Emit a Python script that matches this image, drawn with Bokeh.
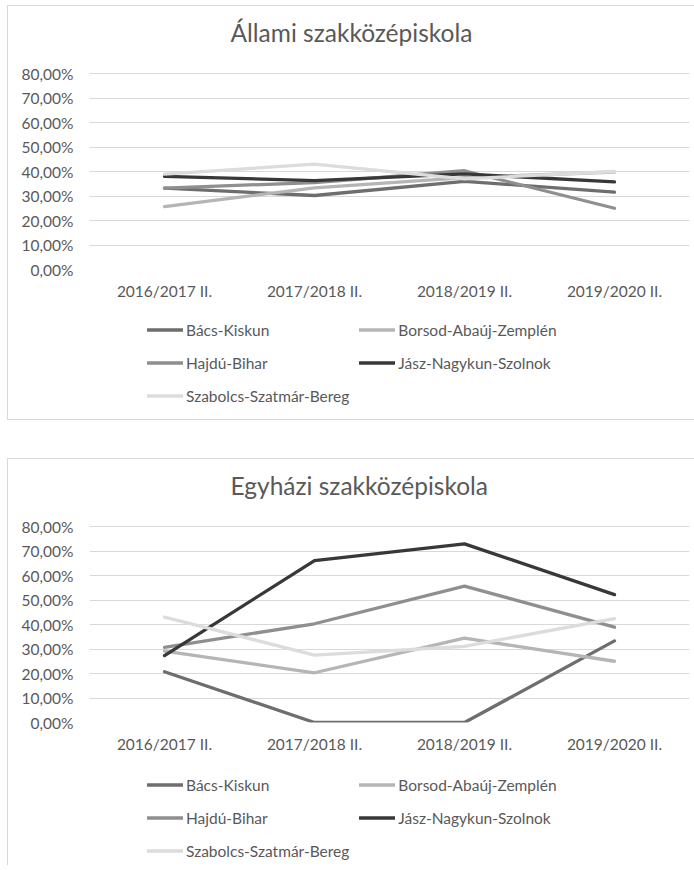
from bokeh.plotting import figure
from bokeh.models import (FactorRange, Range1d, FixedTicker, CustomJSTickFormatter,
                          Legend, LegendItem, Title)
from bokeh.layouts import column
from bokeh.embed import file_html
from bokeh.resources import INLINE

categories = ["2016/2017 II.", "2017/2018 II.", "2018/2019 II.", "2019/2020 II."]
series_names = ["Bács-Kiskun", "Borsod-Abaúj-Zemplén", "Hajdú-Bihar",
                "Jász-Nagykun-Szolnok", "Szabolcs-Szatmár-Bereg"]
series_colors = ["#6e6e6e", "#b5b5b5", "#8f8f8f", "#383838", "#dcdcdc"]
y_ticks = [0, 10, 20, 30, 40, 50, 60, 70, 80]

# Állami szakközépiskola (percent)
allami_bacs = [33.2, 30.2, 36.0, 31.6]
allami_borsod = [25.7, 33.3, 37.5, 39.8]
allami_hajdu = [33.2, 35.5, 40.3, 25.0]
allami_jasz = [38.0, 36.3, 39.0, 35.8]
allami_szabolcs = [38.9, 43.0, 37.0, 40.0]

# Egyházi szakközépiskola (percent)
egyhazi_bacs = [20.7, 0.0, 0.0, 33.3]
egyhazi_borsod = [29.1, 20.3, 34.4, 25.0]
egyhazi_hajdu = [30.7, 40.3, 55.7, 38.9]
egyhazi_jasz = [27.3, 66.1, 72.9, 52.2]
egyhazi_szabolcs = [43.0, 27.5, 31.1, 42.4]

FONT = "Lato"
TXT = "#595959"
BORDER = "1px solid #d9d9d9"
W = 687
F_TOP = 44        # frame top in the chart figure
F_BOTTOM = 263    # 0% line in the chart figure
PX80 = 67         # 80% line
Y_MAX = 80 + (PX80 - F_TOP) * 80.0 / (F_BOTTOM - PX80)
CHART_H = 299
LW = 3.3


def style_chart(p):
    p.outline_line_color = None
    p.yaxis.ticker = FixedTicker(ticks=y_ticks)
    p.yaxis.formatter = CustomJSTickFormatter(
        code="return tick.toFixed(2).replace('.', ',') + '%';")
    for ax in (p.xaxis, p.yaxis):
        ax.axis_line_color = None
        ax.major_tick_line_color = None
        ax.minor_tick_line_color = None
        ax.major_tick_out = 0
        ax.major_tick_in = 0
        ax.minor_tick_out = 0
        ax.major_label_text_font = FONT
        ax.major_label_text_font_size = "15.5px"
        ax.major_label_text_color = TXT
    p.yaxis.major_label_standoff = 16
    p.xaxis.major_label_standoff = 12
    p.xgrid.grid_line_color = None
    p.ygrid.ticker = FixedTicker(ticks=y_ticks)
    p.ygrid.grid_line_color = "#d9d9d9"
    p.ygrid.grid_line_width = 1


def make_chart(title, series, top_margin):
    p = figure(x_range=FactorRange(factors=categories, range_padding=0),
               y_range=Range1d(0, Y_MAX), width=W, height=CHART_H,
               output_backend="svg", toolbar_location=None,
               min_border_left=81, min_border_right=6,
               min_border_top=F_TOP, min_border_bottom=CHART_H - F_BOTTOM)
    p.margin = (top_margin, 0, 0, 7)
    p.styles = {"border-top": BORDER, "border-left": BORDER}
    t = Title(text=title, align="left", offset=141, standoff=8,
              text_font=FONT, text_font_size="24.5px", text_color=TXT,
              text_font_style="normal")
    p.add_layout(t, "above")
    style_chart(p)
    for vals, color in zip(series, series_colors):
        p.line(x=categories, y=vals, line_color=color, line_width=LW,
               line_cap="round", line_join="round")
    return p


def make_legend(series, height, vy, styles):
    # legend strip below the chart; the series are drawn again here but lie
    # outside the visible y-range, so only their legend glyphs show
    p = figure(width=W, height=height,
               x_range=FactorRange(factors=categories, range_padding=0),
               y_range=Range1d(-200, -100),
               x_axis_type=None, y_axis_type=None,
               output_backend="svg", toolbar_location=None, min_border=0)
    p.outline_line_color = None
    p.margin = (0, 0, 0, 7)
    p.styles = styles
    items = []
    for name, vals, color in zip(series_names, series, series_colors):
        r = p.line(x=categories, y=vals, line_color=color, line_width=LW,
                   line_cap="round")
        items.append(LegendItem(label=name, renderers=[r]))
    leg = Legend(items=items, location=(58, vy), orientation="horizontal",
                 ncols=2, glyph_width=36, glyph_height=23, label_height=23,
                 label_width=20, label_standoff=3, spacing=12, padding=0, margin=0,
                 border_line_color=None, background_fill_alpha=0,
                 label_text_font=FONT, label_text_font_size="15.5px",
                 label_text_color=TXT)
    leg.spacing = 10
    p.add_layout(leg)
    return p


s1 = [allami_bacs, allami_borsod, allami_hajdu, allami_jasz, allami_szabolcs]
s2 = [egyhazi_bacs, egyhazi_borsod, egyhazi_hajdu, egyhazi_jasz, egyhazi_szabolcs]

c1 = make_chart("Állami szakközépiskola", s1, 5)
l1 = make_legend(s1, 116, 13, {"border-left": BORDER, "border-bottom": BORDER})
c2 = make_chart("Egyházi szakközépiskola", s2, 38)
l2 = make_legend(s2, 108, 3, {"border-left": BORDER})

layout = column(c1, l1, c2, l2, spacing=0)
open("out.html", "w").write(file_html(layout, INLINE))
